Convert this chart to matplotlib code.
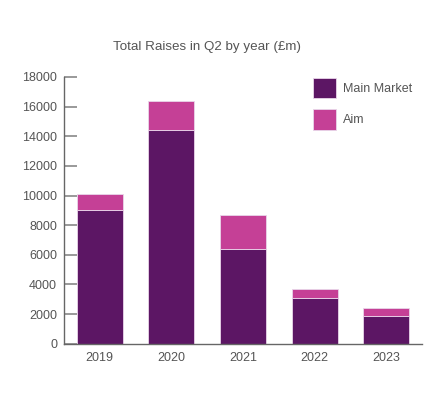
import matplotlib.pyplot as plt
from matplotlib.patches import Patch

years = ["2019", "2020", "2021", "2022", "2023"]
main_market = [9000, 14400, 6400, 3100, 1900]
aim = [1100, 2000, 2300, 600, 500]

main_color = "#5c1664"
aim_color = "#c54096"
text_color = "#555555"

plt.rcParams["font.family"] = ["Liberation Sans", "DejaVu Sans"]

fig = plt.figure(figsize=(4.39, 3.96), dpi=100)
ax = fig.add_axes([0.1458, 0.132, 0.8155, 0.6736])

x = range(len(years))
ax.bar(x, main_market, width=0.64, color=main_color, edgecolor="#e9d6ea", linewidth=0.6)
ax.bar(x, aim, width=0.64, bottom=main_market, color=aim_color, edgecolor="#e9d6ea", linewidth=0.6)

ax.set_xlim(-0.5, 4.5)
ax.set_ylim(0, 18000)
ax.set_yticks(range(0, 18001, 2000))
ax.set_xticks(list(x))
ax.set_xticklabels(years)

for side in ["top", "right"]:
    ax.spines[side].set_visible(False)
for side in ["left", "bottom"]:
    ax.spines[side].set_color("#666666")
    ax.spines[side].set_linewidth(1.0)

ax.tick_params(axis="y", direction="in", length=9, color="#888888", width=1.2,
               labelsize=9, labelcolor=text_color, pad=5)
ax.tick_params(axis="x", length=0, labelsize=9, labelcolor=text_color, pad=6)

fig.text(0.472, 0.882, "Total Raises in Q2 by year (£m)", ha="center", va="center",
         fontsize=9.6, color=text_color)

handles = [Patch(facecolor=main_color, edgecolor="#e9d6ea", linewidth=0.6),
           Patch(facecolor=aim_color, edgecolor="#e9d6ea", linewidth=0.6)]
ax.legend(handles, ["Main Market", "Aim"], loc="upper left", bbox_to_anchor=(0.6955, 0.996),
          borderaxespad=0, borderpad=0, frameon=False, fontsize=9, labelcolor=text_color,
          handlelength=1.85, handleheight=2.1, labelspacing=0.9, handletextpad=0.55)

fig.savefig("out.png", dpi=100)
